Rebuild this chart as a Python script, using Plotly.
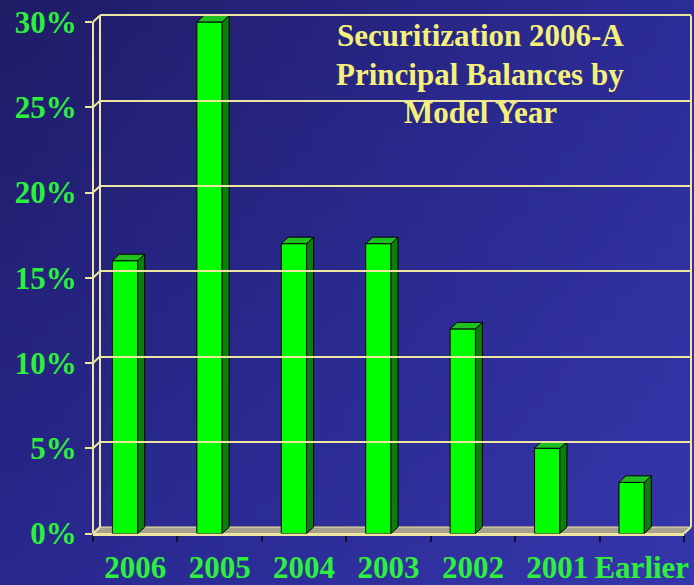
import base64, struct, zlib
import plotly.graph_objects as go

# ---------------- data ----------------
categories = ["2006", "2005", "2004", "2003", "2002", "2001", "Earlier"]
values = [16, 30, 17, 17, 12, 5, 3]
y_ticks = [0, 5, 10, 15, 20, 25, 30]
y_tick_labels = ["0%", "5%", "10%", "15%", "20%", "25%", "30%"]
title_lines = ["Securitization 2006-A", "Principal Balances by", "Model Year"]

# ---------------- geometry (pixels) ----------------
W, H = 694, 585
FX0, FX1 = 93, 684          # front x extent  (-0.5 .. 6.5)
FY0 = 533.5                  # front y of 0
PPY = 17.05                  # px per percent
DXP, DYP = 7, 6.5            # 3D depth offset in px
XR = (-0.5, 6.5)
PPX = (FX1 - FX0) / (XR[1] - XR[0])
FYMAX, BYMAX = 31, 30.5

def fx(v): return FX0 + (v - XR[0]) * PPX
def fy(v): return FY0 - v * PPY
def bx(v): return fx(v) + DXP
def by(v): return fy(v) - DYP
def px(x): return x / W
def py(y): return 1 - y / H

dx = DXP / PPX
dy = DYP / PPY

# ---------------- background gradient image ----------------
def make_png(w, h, fn):
    raw = b"".join(b"\x00" + bytes(c for i in range(w) for c in fn(i / (w - 1), j / (h - 1))) for j in range(h))
    def chunk(t, d):
        c = struct.pack(">I", len(d)) + t + d
        return c + struct.pack(">I", zlib.crc32(t + d) & 0xffffffff)
    png = b"\x89PNG\r\n\x1a\n" + chunk(b"IHDR", struct.pack(">IIBBBBB", w, h, 8, 2, 0, 0, 0))
    png += chunk(b"IDAT", zlib.compress(raw, 9)) + chunk(b"IEND", b"")
    return "data:image/png;base64," + base64.b64encode(png).decode()

TL, TR, BL, BR = (32, 28, 102), (44, 44, 152), (40, 40, 142), (54, 54, 172)
def grad(u, v):
    return tuple(int(round((1-u)*(1-v)*a + u*(1-v)*b + (1-u)*v*c + u*v*d)) for a, b, c, d in zip(TL, TR, BL, BR))
bg = make_png(48, 48, grad)

# ---------------- figure ----------------
fig = go.Figure()
xs = list(range(len(categories)))
BAR_W = 0.30
BAR_C = -0.12   # front face centre offset relative to category centre

# side & top faces (computed from the data through the axis scale)
for i, v in zip(xs, values):
    xl = i + BAR_C - BAR_W / 2
    xr = i + BAR_C + BAR_W / 2
    fig.add_trace(go.Scatter(
        x=[xr, xr + dx, xr + dx, xr, xr], y=[0, dy, v + dy, v, 0],
        fill="toself", fillcolor="#0a7f0a", mode="lines",
        line=dict(color="#000000", width=1), hoverinfo="skip", showlegend=False))
    fig.add_trace(go.Scatter(
        x=[xl, xr, xr + dx, xl + dx, xl], y=[v, v, v + dy, v + dy, v],
        fill="toself", fillcolor="#1fc01f", mode="lines",
        line=dict(color="#000000", width=1), hoverinfo="skip", showlegend=False))

fig.add_trace(go.Bar(
    x=xs, y=values, width=BAR_W, offset=BAR_C - BAR_W / 2,
    marker=dict(color="#00ff00", line=dict(color="#000000", width=1)),
    showlegend=False, hoverinfo="skip"))

# dummy trace to activate back axes
fig.add_trace(go.Scatter(x=[None], y=[None], xaxis="x2", yaxis="y2", showlegend=False))

GRID = "#ece6a0"
LBL = "#2cf03c"
FONT = "Liberation Serif, Times New Roman, serif"

shapes = []
# floor
shapes.append(dict(type="path", xref="paper", yref="paper", layer="below",
    path="M {} {} L {} {} L {} {} L {} {} Z".format(
        px(fx(-0.5)), py(fy(0)), px(fx(6.5)), py(fy(0)),
        px(bx(6.5)), py(by(0)), px(bx(-0.5)), py(by(0))),
    fillcolor="#a8a28c", line=dict(color=GRID, width=1)))
# back wall verticals
for xv in (-0.5, 6.5):
    shapes.append(dict(type="line", xref="paper", yref="paper", layer="below",
        x0=px(bx(xv)), x1=px(bx(xv)), y0=py(by(0)), y1=py(by(30)),
        line=dict(color=GRID, width=2)))
# front left edge
shapes.append(dict(type="line", xref="paper", yref="paper", layer="below",
    x0=px(fx(-0.5)), x1=px(fx(-0.5)), y0=py(fy(0)), y1=py(fy(30)),
    line=dict(color=GRID, width=2)))
# side-wall diagonals
for t in y_ticks:
    shapes.append(dict(type="line", xref="paper", yref="paper", layer="below",
        x0=px(fx(-0.5)), x1=px(bx(-0.5)), y0=py(fy(t)), y1=py(by(t)),
        line=dict(color=GRID, width=2)))
# bottom-right floor diagonal
shapes.append(dict(type="line", xref="paper", yref="paper", layer="below",
    x0=px(fx(6.5)), x1=px(bx(6.5)), y0=py(fy(0)), y1=py(by(0)),
    line=dict(color=GRID, width=2)))

title_y = [35, 74, 113]
annotations = [dict(text=t, xref="paper", yref="paper", x=px(480), y=py(yy),
                    xanchor="center", yanchor="middle", showarrow=False,
                    font=dict(family=FONT, size=31, color="#f5f07a", weight="bold"))
               for t, yy in zip(title_lines, title_y)]

fig.update_layout(
    width=W, height=H,
    margin=dict(l=0, r=0, t=0, b=0),
    paper_bgcolor="rgb(40,40,140)", plot_bgcolor="rgba(0,0,0,0)",
    images=[dict(source=bg, xref="paper", yref="paper", x=0, y=1, sizex=1, sizey=1,
                 sizing="stretch", layer="below")],
    shapes=shapes,
    xaxis=dict(domain=[px(FX0), px(FX1)], range=list(XR), showgrid=False, zeroline=False,
               automargin=False,
               tickvals=xs, ticktext=categories, ticks="", showline=True,
               linecolor=GRID, linewidth=2,
               minor=dict(tick0=0.5, dtick=1, ticks="outside", ticklen=6, tickcolor="#101030", tickwidth=2),
               tickfont=dict(family=FONT, size=31, color=LBL, weight="bold"),
               ticklabelstandoff=5),
    yaxis=dict(domain=[py(fy(0)), py(fy(FYMAX))], range=[0, FYMAX], showgrid=False, zeroline=False,
               automargin=False,
               tickvals=y_ticks, ticktext=y_tick_labels, ticks="outside", ticklen=7,
               tickcolor=GRID, tickwidth=2,
               tickfont=dict(family=FONT, size=31, color=LBL, weight="bold"),
               ticklabelstandoff=2),
    xaxis2=dict(domain=[px(bx(XR[0])), px(bx(XR[1]))], range=list(XR), automargin=False,
                anchor="y2", showgrid=False, zeroline=False, showticklabels=False, ticks=""),
    yaxis2=dict(domain=[py(by(0)), py(by(BYMAX))], range=[0, BYMAX], anchor="x2", automargin=False,
                tickvals=y_ticks, showgrid=True, gridcolor=GRID, gridwidth=2,
                zeroline=False, showticklabels=False, ticks=""),
    annotations=annotations,
)
fig.update_layout(xaxis2_layer="below traces", yaxis2_layer="below traces")

fig.write_html("out.html", config={"displayModeBar": False},
               post_script="document.body.style.margin='0';document.body.style.overflow='hidden';")
